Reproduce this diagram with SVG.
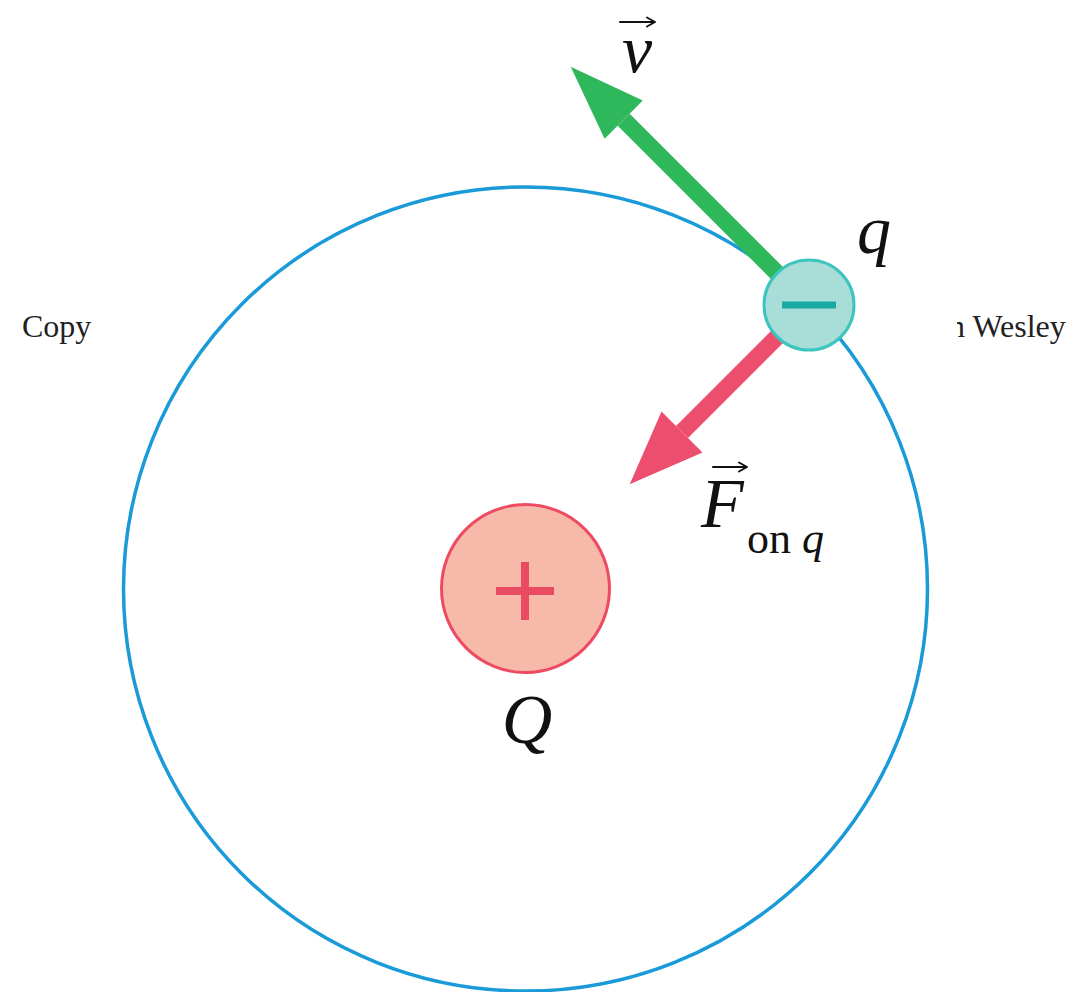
<svg xmlns="http://www.w3.org/2000/svg" width="1074" height="992" viewBox="0 0 1074 992">
<style>
.lbl{font-family:"Liberation Serif","Times New Roman",serif;fill:#111;}
.it{font-style:italic;}
.wm{font-family:"Liberation Serif","Times New Roman",serif;fill:#222;font-size:32px;}
.acc{stroke:#111;stroke-width:2;fill:none;stroke-linecap:round;stroke-linejoin:round;}
</style>
<defs>
<clipPath id="clipL"><rect x="0" y="290" width="92" height="70"/></clipPath>
<clipPath id="clipR"><rect x="957" y="290" width="117" height="70"/></clipPath>
</defs>
<rect width="1074" height="992" fill="#ffffff"/>
<g id="watermark">
<text class="wm" x="22" y="337" clip-path="url(#clipL)">Copy</text>
<text class="wm" x="949" y="337" clip-path="url(#clipR)">n Wesley</text>
</g>
<g id="orbit">
<circle cx="525.5" cy="589" r="402" fill="none" stroke="#1a9ad8" stroke-width="3.5"/>
</g>
<g id="connectors">
<g id="velocity">
<line x1="809" y1="305" x2="623.7" y2="119.7" stroke="#2fb85b" stroke-width="17"/>
<polygon points="570.7,66.7 642.8,100.6 604.6,138.8" fill="#2fb85b"/>
</g>
<g id="force">
<line x1="809" y1="305" x2="682" y2="432" stroke="#ee4e6e" stroke-width="17"/>
<polygon points="629.7,484.3 702.5,452.5 661.5,411.5" fill="#ee4e6e"/>
</g>
</g>
<g id="Q">
<circle cx="525.5" cy="588.5" r="84" fill="#f6b9aa" stroke="#ee4b62" stroke-width="3"/>
<line x1="496" y1="591" x2="554" y2="591" stroke="#e84b62" stroke-width="8"/>
<line x1="525" y1="562" x2="525" y2="620" stroke="#e84b62" stroke-width="8"/>
<text class="lbl it" x="527" y="743" font-size="70" text-anchor="middle">Q</text>
</g>
<g id="q">
<circle cx="809" cy="305" r="45" fill="#a9ddd8" stroke="#3cc5bf" stroke-width="3"/>
<line x1="782" y1="305" x2="836" y2="305" stroke="#19a9a3" stroke-width="7"/>
<text class="lbl it" x="857" y="253" font-size="68">q</text>
</g>
<g id="label-v">
<text class="lbl it" x="622" y="72" font-size="68">v</text>
<line class="acc" x1="620" y1="22" x2="654" y2="22"/>
<path class="acc" d="M647,17.5 L655,22 L647,26.5"/>
</g>
<g id="label-F">
<text class="lbl it" x="701" y="527" font-size="70">F</text>
<line class="acc" x1="713" y1="467" x2="746" y2="467"/>
<path class="acc" d="M739,462.5 L747,467 L739,471.5"/>
<text class="lbl" x="747" y="553" font-size="44">on <tspan class="it">q</tspan></text>
</g>
</svg>
